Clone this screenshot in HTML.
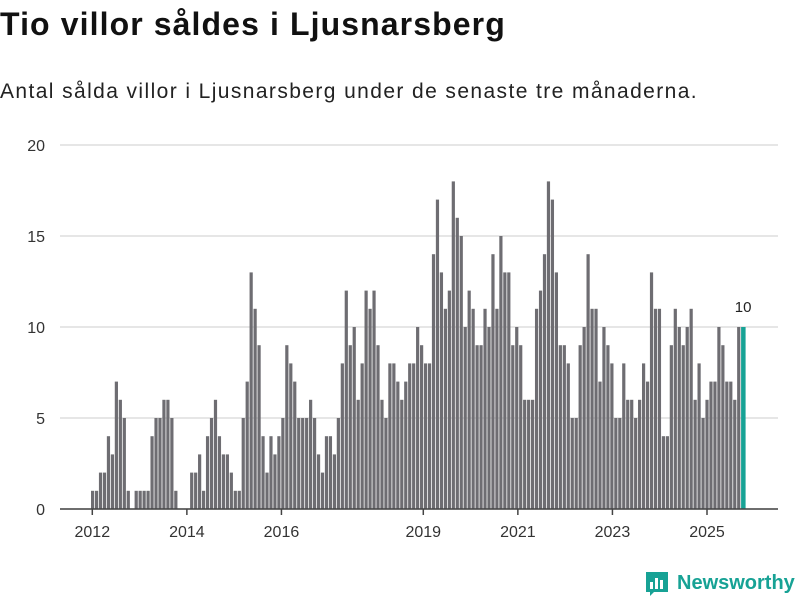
<!DOCTYPE html>
<html><head><meta charset="utf-8"><style>
body{margin:0;width:800px;height:600px;background:#fff;font-family:"Liberation Sans",sans-serif;overflow:hidden;position:relative}
#title{position:absolute;left:0;top:6px;font-size:32px;font-weight:bold;color:#111;letter-spacing:1.1px}
#sub{position:absolute;left:0;top:80px;font-size:21px;color:#222;letter-spacing:1.4px}
svg{position:absolute;left:0;top:0}
</style></head><body>
<div id="title">Tio villor såldes i Ljusnarsberg</div>
<div id="sub">Antal sålda villor i Ljusnarsberg under de senaste tre månaderna.</div>
<svg id="chart" width="800" height="600"></svg>
<script>
const values=[1,1,2,2,4,3,7,6,5,1,0,1,
1,1,1,4,5,5,6,6,5,1,0,0,
0,2,2,3,1,4,5,6,4,3,3,2,1,1,
5,7,13,11,9,4,2,4,3,4,5,9,8,7,5,5,5,6,5,3,2,4,4,3,5,8,12,9,10,6,
8,12,11,12,9,6,5,8,8,7,6,7,8,8,10,9,8,8,14,17,13,11,12,18,16,15,10,12,11,9,9,11,10,14,11,
15,13,13,9,10,9,6,6,6,11,12,14,18,17,13,9,9,8,5,5,9,10,14,11,11,7,10,9,8,5,5,8,6,6,
5,6,8,7,13,11,11,4,4,9,11,10,9,10,11,6,8,5,6,7,7,10,9,7,7,6,10,10];
const yTicks=[0,5,10,15,20];
const xTickYears=[2012,2014,2016,2019,2021,2023,2025];
const NS='http://www.w3.org/2000/svg';
const svg=document.getElementById('chart');
const y0=509,y1=145,yMax=20;
const ys=v=>y0-(v/yMax)*(y0-y1);
const band=3.964,bx0=91;
const xs=i=>bx0+i*band;
const yearX=yr=>92.3+(yr-2012)*(707-92.3)/13;
function mk(t,a){const e=document.createElementNS(NS,t);for(const k in a)e.setAttribute(k,a[k]);svg.appendChild(e);return e;}
yTicks.forEach(v=>{
  const g=mk('line',{x1:60,x2:778,y1:ys(v),y2:ys(v),stroke:'#ddd','stroke-width':1.5});
  
  
  const t=mk('text',{x:45,y:ys(v)+6,'text-anchor':'end','font-size':16,fill:'#333'});
  t.textContent=v;
  
  
});
values.forEach((v,i)=>{
  const last=i===values.length-1;
  const r=mk('rect',{x:xs(i),y:ys(v),width:last?4.5:3.2,height:y0-ys(v),fill:last?'#17a295':'#6e6d72'});
  
  
  if(last){
    const t=mk('text',{x:xs(i)+2,y:ys(v)-15,'text-anchor':'middle','font-size':15,fill:'#222'});
    t.textContent=v;
    
    
  }
});
const ax=mk('line',{x1:60,x2:778,y1:y0,y2:y0,stroke:'#444','stroke-width':1.5});


xTickYears.forEach(yr=>{
  const x=yearX(yr);
  const tk=mk('line',{x1:x,x2:x,y1:y0,y2:y0+6,stroke:'#444','stroke-width':1.5});
  
  
  const t=mk('text',{x:x,y:537,'text-anchor':'middle','font-size':16,fill:'#333'});
  t.textContent=yr;
  
  
});
</script>
<svg width="800" height="600" style="position:absolute;left:0;top:0">
<g>
<path d="M646 572 h22 v20 h-14 l-4 4 v-4 h-4 z" fill="#17a295"/>
<rect x="650" y="582" width="3" height="7" fill="#fff"/><rect x="655" y="578" width="3" height="11" fill="#fff"/><rect x="660" y="580" width="3" height="9" fill="#fff"/>
</g>
<text x="677" y="589" font-size="20" font-weight="bold" fill="#17a295" font-family="Liberation Sans, sans-serif">Newsworthy</text>
</svg>
</body></html>
